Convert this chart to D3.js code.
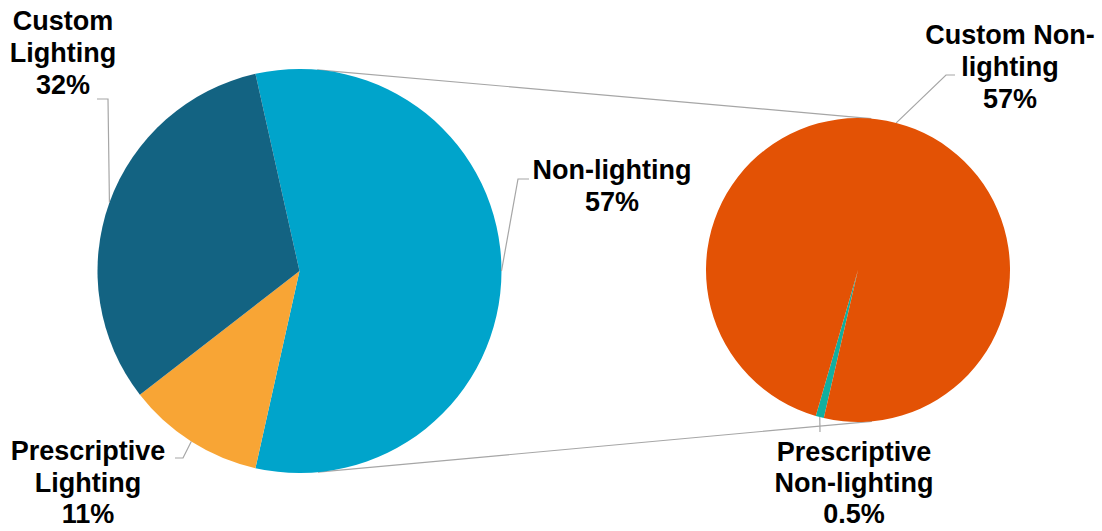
<!DOCTYPE html>
<html>
<head>
<meta charset="utf-8">
<script src="https://cdn.jsdelivr.net/npm/d3@7/dist/d3.min.js"></script>
<style>
  html, body { margin: 0; padding: 0; background: #fff; }
  svg { display: block; }
  .lbl { font-family: "Liberation Sans", Arial, sans-serif; font-weight: bold; font-size: 27px; fill: #000; }
</style>
</head>
<body>
<svg id="chart" width="1102" height="531"></svg>
<script>
// Main pie: share of savings by measure type (%)
const mainCategories = ["Non-lighting", "Prescriptive Lighting", "Custom Lighting"];
const mainValues = [57, 11, 32];
const mainColors = ["#00a4cb", "#f8a535", "#136382"];

// Breakdown of the Non-lighting slice (% of total)
const subCategories = ["Prescriptive Non-lighting", "Custom Non-lighting"];
const subValues = [0.5, 57];
const subColors = ["#11afa0", "#e35205"];

// How each label wraps onto lines
const labelLines = {
  "Custom Lighting": ["Custom", "Lighting"],
  "Prescriptive Lighting": ["Prescriptive", "Lighting"],
  "Non-lighting": ["Non-lighting"],
  "Custom Non-lighting": ["Custom Non-", "lighting"],
  "Prescriptive Non-lighting": ["Prescriptive", "Non-lighting"]
};

const svg = d3.select("#chart");
const deg = Math.PI / 180;

// geometry of the two pies
const main = { cx: 299.5, cy: 271, r: 202 };
const sub = { cx: 858, cy: 270, r: 152 };

// aggregated slice is centred on the 3 o'clock direction
const aggShare = mainValues[0] / d3.sum(mainValues);
const mainPie = d3.pie().sort(null)
  .startAngle(Math.PI / 2 - aggShare * Math.PI)
  .endAngle(Math.PI / 2 - aggShare * Math.PI + 2 * Math.PI);
const subPie = d3.pie().sort(null)
  .startAngle(193 * deg)
  .endAngle(193 * deg + 2 * Math.PI);

const mainArc = d3.arc().innerRadius(0).outerRadius(main.r);
const subArc = d3.arc().innerRadius(0).outerRadius(sub.r);

const mainData = mainPie(mainValues)
  .map((a, i) => Object.assign(a, { name: mainCategories[i], color: mainColors[i] }));
const subData = subPie(subValues)
  .map((a, i) => Object.assign(a, { name: subCategories[i], color: subColors[i] }));

// connector lines: outer common tangents of the two circles
(function drawConnectors() {
  const dx = sub.cx - main.cx, dy = sub.cy - main.cy;
  const d = Math.hypot(dx, dy);
  const theta = Math.atan2(dy, dx);
  const alpha = Math.acos((main.r - sub.r) / d);
  [theta - alpha, theta + alpha].forEach(phi => {
    const nx = Math.cos(phi), ny = Math.sin(phi);
    svg.append("line")
      .attr("x1", main.cx + main.r * nx).attr("y1", main.cy + main.r * ny)
      .attr("x2", sub.cx + sub.r * nx).attr("y2", sub.cy + sub.r * ny)
      .attr("stroke", "#a6a6a6").attr("stroke-width", 1.2);
  });
})();

const gMain = svg.append("g").attr("transform", `translate(${main.cx},${main.cy})`);
gMain.selectAll("path").data(mainData).join("path")
  .attr("d", mainArc).attr("fill", d => d.color);

const gSub = svg.append("g").attr("transform", `translate(${sub.cx},${sub.cy})`);
gSub.selectAll("path").data(subData).join("path")
  .attr("d", subArc).attr("fill", d => d.color);

// label placement: text centre x, first baseline, line step and leader bend points
const labelLayout = {
  "Custom Lighting":           { x: 63,   y: 30,  step: 32,   path: [[108, 99], [97, 99]] },
  "Non-lighting":              { x: 612,  y: 179, step: 32,   path: [[518, 179], [529, 179]] },
  "Prescriptive Lighting":     { x: 88,   y: 460, step: 31.5, path: [[183, 458], [175, 458]] },
  "Custom Non-lighting":       { x: 1010, y: 44,  step: 32,   path: [[946, 75], [955, 75]] },
  "Prescriptive Non-lighting": { x: 854,  y: 461, step: 31,   path: [[820, 432]] }
};

function drawLabels(data, centre, radius) {
  data.forEach(d => {
    const lay = labelLayout[d.name];
    const mid = (d.startAngle + d.endAngle) / 2;
    const ax = centre.cx + radius * Math.sin(mid);
    const ay = centre.cy - radius * Math.cos(mid);
    svg.append("path")
      .attr("d", d3.line()([[ax, ay], ...lay.path]))
      .attr("fill", "none").attr("stroke", "#a6a6a6").attr("stroke-width", 1.2);
    const lines = labelLines[d.name].concat([d.value + "%"]);
    const t = svg.append("text").attr("class", "lbl").attr("text-anchor", "middle");
    lines.forEach((s, i) => {
      t.append("tspan").attr("x", lay.x).attr("y", lay.y + i * lay.step).text(s);
    });
  });
}

drawLabels(mainData, main, main.r);
drawLabels(subData, sub, sub.r);
</script>
</body>
</html>
